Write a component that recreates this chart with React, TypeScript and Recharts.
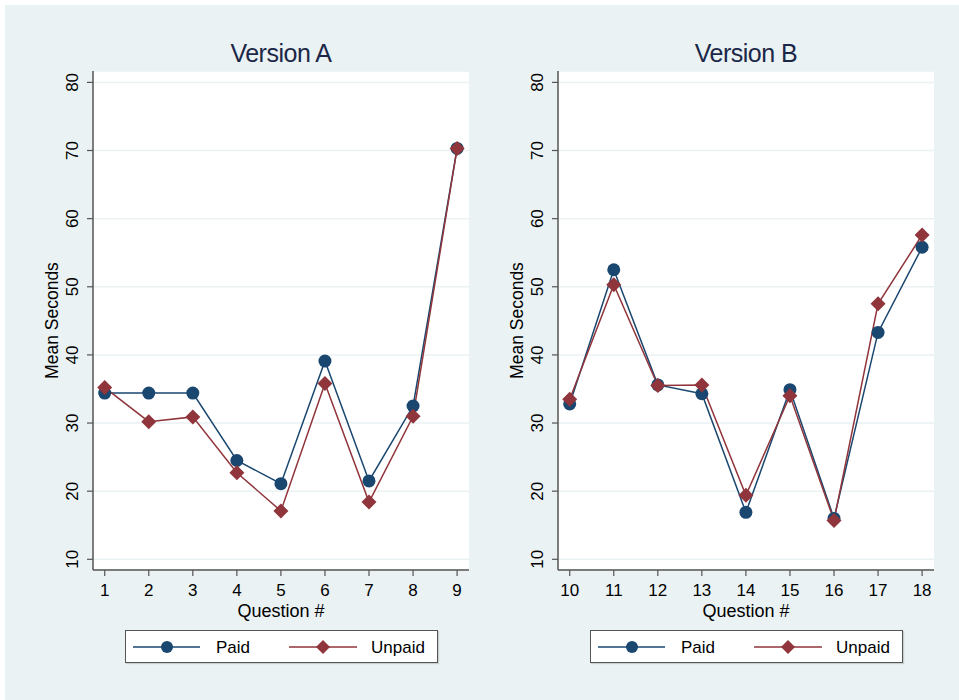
import React from 'react';
import { LineChart, Line, XAxis, YAxis, CartesianGrid, Legend } from 'recharts';

const questionsA = [1, 2, 3, 4, 5, 6, 7, 8, 9];
const paidA = [34.4, 34.4, 34.4, 24.5, 21.1, 39.1, 21.5, 32.5, 70.3];
const unpaidA = [35.2, 30.2, 30.9, 22.7, 17.1, 35.8, 18.4, 31.0, 70.3];

const questionsB = [10, 11, 12, 13, 14, 15, 16, 17, 18];
const paidB = [32.8, 52.5, 35.6, 34.3, 16.9, 34.9, 16.0, 43.3, 55.8];
const unpaidB = [33.5, 50.3, 35.5, 35.6, 19.4, 34.0, 15.7, 47.5, 57.6];

const yTicks = [10, 20, 30, 40, 50, 60, 70, 80];
const titles = ['Version A', 'Version B'];
const seriesNames = ['Paid', 'Unpaid'];

const PAID = '#1a476f';
const UNPAID = '#90353b';
const BG = '#eaf2f3';
const FONT = 'Liberation Sans, Arial, Helvetica, sans-serif';

const build = (q: number[], p: number[], u: number[]) =>
  q.map((x, i) => ({ q: x, Paid: p[i], Unpaid: u[i] }));

const CircleDot = (props: any) => {
  const { cx, cy } = props;
  if (cx == null || cy == null) return null;
  return <circle cx={cx} cy={cy} r={6.5} fill={PAID} />;
};

const DiamondDot = (props: any) => {
  const { cx, cy } = props;
  if (cx == null || cy == null) return null;
  const s = 7.5;
  return (
    <polygon
      points={`${cx},${cy - s} ${cx + s},${cy} ${cx},${cy + s} ${cx - s},${cy}`}
      fill={UNPAID}
    />
  );
};

const YTick = (props: any) => {
  const { y, payload } = props;
  return (
    <text
      x={73}
      y={y}
      transform={`rotate(-90, 73, ${y})`}
      textAnchor="middle"
      dominantBaseline="central"
      fontSize={17}
      fontFamily={FONT}
      fill="#000"
    >
      {payload.value}
    </text>
  );
};

const XTick = (props: any) => {
  const { x, payload } = props;
  return (
    <text
      x={x}
      y={590.5}
      textAnchor="middle"
      dominantBaseline="central"
      fontSize={17}
      fontFamily={FONT}
      fill="#000"
    >
      {payload.value}
    </text>
  );
};

const LegendBox = (props: any) => {
  const payload = props.payload || [];
  const byName: Record<string, string> = {};
  payload.forEach((p: any) => {
    byName[p.value] = p.color;
  });
  return (
    <div
      style={{
        width: 311,
        height: 31,
        border: '1px solid #555',
        background: '#fff',
        position: 'relative',
        fontFamily: FONT,
        fontSize: 17,
        boxShadow: '1px 1px 1px rgba(0,0,0,0.15)',
      }}
    >
      <svg width={311} height={31} style={{ position: 'absolute', left: 0, top: 0 }}>
        <line x1={7} y1={16} x2={74} y2={16} stroke={byName[seriesNames[0]] || PAID} strokeWidth={1.5} />
        <circle cx={41} cy={16} r={6} fill={PAID} />
        <text x={90} y={16} dominantBaseline="central" fontSize={17} fontFamily={FONT} fill="#000">
          {seriesNames[0]}
        </text>
        <line x1={163} y1={16} x2={231} y2={16} stroke={byName[seriesNames[1]] || UNPAID} strokeWidth={1.5} />
        <polygon points="197,9 204,16 197,23 190,16" fill={UNPAID} />
        <text x={245} y={16} dominantBaseline="central" fontSize={17} fontFamily={FONT} fill="#000">
          {seriesNames[1]}
        </text>
      </svg>
    </div>
  );
};

const Panel = (props: { data: any[]; qs: number[]; title: string; left: number }) => {
  const { data, qs, title, left } = props;
  const lo = qs[0] - 0.266;
  const hi = qs[qs.length - 1] + 0.27;
  return (
    <div style={{ position: 'absolute', left, top: 0, width: 480, height: 700 }}>
      <div
        style={{
          position: 'absolute',
          left: 93,
          width: 376,
          top: 38,
          textAlign: 'center',
          fontFamily: FONT,
          fontSize: 25,
          letterSpacing: '-0.5px',
          color: '#1c2748',
          lineHeight: '31px',
          zIndex: 2,
        }}
      >
        {title}
      </div>
      <LineChart
        width={480}
        height={700}
        data={data}
        margin={{ top: 71, right: 11, bottom: 90, left: 0 }}
      >
        <CartesianGrid
          vertical={false}
          horizontal={true}
          stroke={BG}
          strokeWidth={1.5}
          fill="#fff"
        />
        <XAxis
          dataKey="q"
          type="number"
          domain={[lo, hi]}
          ticks={qs}
          allowDataOverflow
          height={40}
          tickSize={6}
          tick={<XTick />}
          axisLine={{ stroke: '#555', strokeWidth: 1.5 }}
          tickLine={{ stroke: '#555', strokeWidth: 1.2 }}
          label={(lp: any) => {
            const vb = lp.viewBox || {};
            return (
              <text
                x={vb.x + vb.width / 2}
                y={610.5}
                textAnchor="middle"
                dominantBaseline="central"
                fontSize={18}
                fontFamily={FONT}
                fill="#000"
              >
                Question #
              </text>
            );
          }}
        />
        <YAxis
          type="number"
          domain={[8.43, 81.67]}
          ticks={yTicks}
          allowDataOverflow
          width={93}
          tickSize={6}
          tick={<YTick />}
          axisLine={{ stroke: '#555', strokeWidth: 1.5 }}
          tickLine={{ stroke: '#555', strokeWidth: 1.2 }}
          label={(lp: any) => {
            const vb = lp.viewBox || {};
            const cy = vb.y + vb.height / 2;
            return (
              <text
                x={52}
                y={cy}
                transform={`rotate(-90, 52, ${cy})`}
                textAnchor="middle"
                dominantBaseline="central"
                fontSize={17.5}
                fontFamily={FONT}
                fill="#000"
              >
                Mean Seconds
              </text>
            );
          }}
        />
        <Legend
          layout="horizontal"
          verticalAlign="middle"
          align="center"
          content={<LegendBox />}
          wrapperStyle={{ left: 125, top: 630, width: 313, height: 33 }}
        />
        <Line
          dataKey="Paid"
          name={seriesNames[0]}
          stroke={PAID}
          strokeWidth={1.5}
          dot={<CircleDot />}
          activeDot={false}
          isAnimationActive={false}
        />
        <Line
          dataKey="Unpaid"
          name={seriesNames[1]}
          stroke={UNPAID}
          strokeWidth={1.5}
          dot={<DiamondDot />}
          activeDot={false}
          isAnimationActive={false}
        />
      </LineChart>
    </div>
  );
};

export default function App() {
  const dataA = build(questionsA, paidA, unpaidA);
  const dataB = build(questionsB, paidB, unpaidB);
  return (
    <div
      style={{
        position: 'absolute',
        left: 0,
        top: 0,
        width: 959,
        height: 700,
        background: '#fff',
        overflow: 'hidden',
      }}
    >
      <div
        style={{
          position: 'absolute',
          left: 5,
          top: 5,
          width: 954,
          height: 695,
          background: BG,
        }}
      />
      <Panel data={dataA} qs={questionsA} title={titles[0]} left={0} />
      <Panel data={dataB} qs={questionsB} title={titles[1]} left={465} />
    </div>
  );
}
